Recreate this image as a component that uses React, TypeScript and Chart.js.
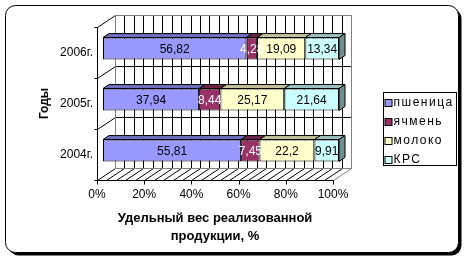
import React, { useEffect, useRef } from 'react';
import { Chart, registerables } from 'chart.js';

Chart.register(...registerables);

const FONT = '"Liberation Sans", Arial, sans-serif';

const categories = ['2006г.', '2005г.', '2004г.'];
const seriesNames = ['пшеница', 'ячмень', 'молоко', 'КРС'];
const wheat = [56.82, 37.94, 55.81];
const barley = [4.28, 8.44, 7.45];
const milk = [19.09, 25.17, 22.2];
const cattle = [13.34, 21.64, 9.91];
const xTickStep = 20;
const gridStep = 4;
const xTitle = ['Удельный вес реализованной', 'продукции, %'];
const yTitle = 'Годы';

const frontColors = ['#9999FF', '#993366', '#FFFFCC', '#CCFFFF'];
const topColors = ['#6E6EBE', '#6B2447', '#BFBF99', '#99BFBF'];
const sideColors = ['#5A5A99', '#55203A', '#99997A', '#6E9090'];
const labelColors = ['#000000', '#FFFFFF', '#000000', '#000000'];

// depth of walls and bars (pixels)
const DX = 18, DY = -12;
const BDX = 6, BDY = -4;

const raw = [wheat, barley, milk, cattle];
const totals = categories.map((_, i) => raw.reduce((s, a) => s + a[i], 0));

function rr(ctx: CanvasRenderingContext2D, x: number, y: number, w: number, h: number, r: number) {
  ctx.beginPath();
  ctx.moveTo(x + r, y);
  ctx.lineTo(x + w - r, y);
  ctx.arcTo(x + w, y, x + w, y + r, r);
  ctx.lineTo(x + w, y + h - r);
  ctx.arcTo(x + w, y + h, x + w - r, y + h, r);
  ctx.lineTo(x + r, y + h);
  ctx.arcTo(x, y + h, x, y + h - r, r);
  ctx.lineTo(x, y + r);
  ctx.arcTo(x, y, x + r, y, r);
  ctx.closePath();
}

function line(ctx: CanvasRenderingContext2D, x1: number, y1: number, x2: number, y2: number, color: string) {
  ctx.strokeStyle = color;
  ctx.beginPath();
  ctx.moveTo(x1, y1);
  ctx.lineTo(x2, y2);
  ctx.stroke();
}

const threeD = {
  id: 'threeD',
  beforeDraw(chart: any) {
    const ctx: CanvasRenderingContext2D = chart.ctx;
    ctx.save();
    ctx.fillStyle = '#ffffff';
    ctx.fillRect(0, 0, chart.width, chart.height);
    ctx.fillStyle = '#000000';
    rr(ctx, 8.5, 8.5, 453, 247, 10);
    ctx.fill();
    ctx.fillStyle = '#ffffff';
    rr(ctx, 5.5, 5.5, 453, 247, 10);
    ctx.fill();
    ctx.lineWidth = 1;
    ctx.strokeStyle = '#000000';
    ctx.stroke();
    ctx.restore();
  },
  beforeDatasetsDraw(chart: any) {
    const ctx: CanvasRenderingContext2D = chart.ctx;
    const ca = chart.chartArea;
    const xs = chart.scales.x;
    const ys = chart.scales.y;
    const L = Math.round(ca.left) + 0.5, R = Math.round(ca.right) + 0.5;
    const T = Math.round(ca.top) + 0.5, B = Math.round(ca.bottom) + 0.5;
    ctx.save();
    ctx.lineWidth = 1;
    for (let v = gridStep; v < 100; v += gridStep) {
      const X = Math.round(xs.getPixelForValue(v)) + 0.5;
      line(ctx, X + DX, T + DY, X + DX, B + DY, '#000');
      line(ctx, X, B, X + DX, B + DY, '#000');
    }
    const bounds: number[] = [];
    for (let i = 0; i < categories.length - 1; i++) {
      bounds.push(Math.round((ys.getPixelForValue(i) + ys.getPixelForValue(i + 1)) / 2) + 0.5);
    }
    bounds.forEach((yb) => {
      line(ctx, L + DX, yb + DY, R + DX, yb + DY, '#000');
      line(ctx, L, yb, L + DX, yb + DY, '#000');
      line(ctx, L - 3, yb, L, yb, '#000');
    });
    line(ctx, L, T, L + DX, T + DY, '#000');
    line(ctx, L, B, L + DX, B + DY, '#000');
    const G = '#808080';
    line(ctx, L + DX, T + DY, R + DX, T + DY, G);
    line(ctx, R + DX, T + DY, R + DX, B + DY, G);
    line(ctx, L + DX, T + DY, L + DX, B + DY, G);
    line(ctx, L + DX, B + DY, R + DX, B + DY, G);
    line(ctx, R, B, R + DX, B + DY, G);
    line(ctx, L, T, L, B + 3, '#000');
    line(ctx, L - 3, T, L, T, '#000');
    line(ctx, L - 3, B, R, B, '#000');
    for (let v = 0; v <= 100; v += xTickStep) {
      const X = Math.round(xs.getPixelForValue(v)) + 0.5;
      line(ctx, X, B, X, B + 4, '#000');
    }
    ctx.restore();
    ctx.save();
    ctx.translate(BDX, BDY);
  },
  afterDatasetsDraw(chart: any) {
    const ctx: CanvasRenderingContext2D = chart.ctx;
    const n = chart.data.datasets.length;
    ctx.lineWidth = 1;
    ctx.strokeStyle = '#000';
    for (let k = 0; k < n; k++) {
      const meta = chart.getDatasetMeta(k);
      meta.data.forEach((el: any) => {
        const p = el.getProps(['x', 'y', 'base', 'height'], true);
        const l = Math.min(p.x, p.base), r = Math.max(p.x, p.base);
        const t = p.y - p.height / 2, b = p.y + p.height / 2;
        ctx.fillStyle = topColors[k];
        ctx.beginPath();
        ctx.moveTo(l, t);
        ctx.lineTo(r, t);
        ctx.lineTo(r + BDX, t + BDY);
        ctx.lineTo(l + BDX, t + BDY);
        ctx.closePath();
        ctx.fill();
        ctx.stroke();
        if (k === n - 1) {
          ctx.fillStyle = sideColors[k];
          ctx.beginPath();
          ctx.moveTo(r, t);
          ctx.lineTo(r + BDX, t + BDY);
          ctx.lineTo(r + BDX, b + BDY);
          ctx.lineTo(r, b);
          ctx.closePath();
          ctx.fill();
          ctx.stroke();
        }
      });
    }
    ctx.font = '12px ' + FONT;
    ctx.textAlign = 'center';
    ctx.textBaseline = 'middle';
    for (let k = 0; k < n; k++) {
      const meta = chart.getDatasetMeta(k);
      meta.data.forEach((el: any, i: number) => {
        const p = el.getProps(['x', 'y', 'base'], true);
        ctx.fillStyle = labelColors[k];
        ctx.fillText(String(raw[k][i]).replace('.', ','), (p.x + p.base) / 2, p.y + 1);
      });
    }
    ctx.restore();
  },
  afterDraw(chart: any) {
    const ctx: CanvasRenderingContext2D = chart.ctx;
    const ca = chart.chartArea;
    const lx = Math.round(ca.right) + 50.5;
    const ly = 92.5;
    ctx.save();
    ctx.lineWidth = 1;
    ctx.strokeStyle = '#000';
    ctx.strokeRect(lx, ly, 73, 73);
    ctx.font = '12px ' + FONT;
    (ctx as any).letterSpacing = '1.5px';
    ctx.textAlign = 'left';
    ctx.textBaseline = 'middle';
    seriesNames.forEach((name, k) => {
      const cy = Math.round(ly + 10 + k * 19.2);
      ctx.fillStyle = frontColors[k];
      ctx.fillRect(lx + 1.5, cy - 3.5, 7, 7);
      ctx.strokeRect(lx + 1.5, cy - 3.5, 7, 7);
      ctx.fillStyle = '#000';
      ctx.fillText(name, lx + 10, cy);
    });
    ctx.restore();
  },
};

export default function App() {
  const ref = useRef<HTMLCanvasElement>(null);
  useEffect(() => {
    const canvas = ref.current!;
    const datasets = raw.map((arr, k) => ({
      label: seriesNames[k],
      data: arr.map((v, i) => (v / totals[i]) * 100),
      backgroundColor: frontColors[k],
      borderColor: '#000000',
      borderWidth: 1,
      borderSkipped: false,
      barPercentage: 0.43,
      categoryPercentage: 1,
      clip: false,
    }));
    const chart = new Chart(canvas, {
      type: 'bar',
      data: { labels: categories, datasets } as any,
      plugins: [threeD],
      options: {
        indexAxis: 'y',
        responsive: false,
        animation: false,
        devicePixelRatio: 1,
        layout: { padding: { left: 0, right: 134, top: 27, bottom: 0 } },
        plugins: { legend: { display: false }, tooltip: { enabled: false } },
        scales: {
          x: {
            stacked: true,
            min: 0,
            max: 100,
            grid: { display: false, drawTicks: false },
            border: { display: false },
            ticks: {
              stepSize: xTickStep,
              maxRotation: 0,
              padding: 7,
              color: '#000',
              font: { family: FONT, size: 12 },
              callback: (v: any) => v + '%',
            },
            title: {
              display: true,
              text: xTitle,
              color: '#000',
              font: { family: FONT, size: 13, weight: 'bold', lineHeight: 1.42 },
              padding: { top: 0, bottom: 16 },
            },
            afterFit: (s: any) => { s.height = 82; },
          },
          y: {
            stacked: true,
            grid: { display: false, drawTicks: false },
            border: { display: false },
            ticks: { padding: 4, color: '#000', font: { family: FONT, size: 12 } },
            title: {
              display: true,
              text: yTitle,
              color: '#000',
              font: { family: FONT, size: 12, weight: 'bold' },
              padding: { top: 37, bottom: 0 },
            },
            afterFit: (s: any) => { s.width = 97; },
          },
        },
      } as any,
    });
    return () => chart.destroy();
  }, []);
  return (
    <div style={{ position: 'absolute', left: 0, top: 0, width: 467, height: 262 }}>
      <canvas ref={ref} width={467} height={262} style={{ display: 'block', width: 467, height: 262 }} />
    </div>
  );
}
